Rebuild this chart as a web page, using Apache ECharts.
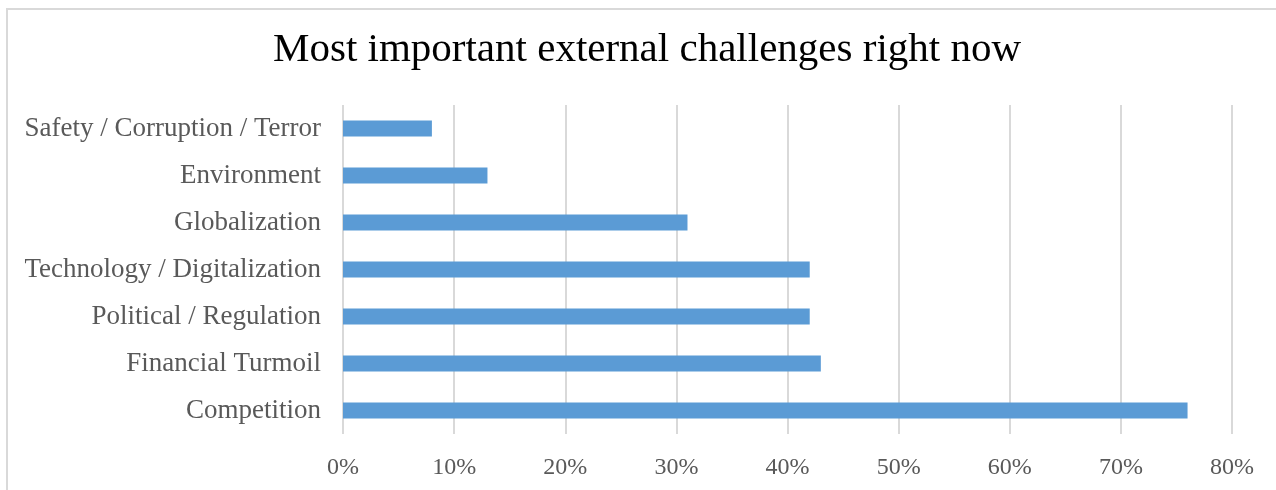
<!DOCTYPE html>
<html>
<head>
<meta charset="utf-8">
<title>Most important external challenges right now</title>
<script src="https://cdn.jsdelivr.net/npm/echarts@6/dist/echarts.min.js"></script>
<style>
  html, body { margin: 0; padding: 0; background: #ffffff; }
  #chart { width: 1276px; height: 490px; }
</style>
</head>
<body>
<div id="chart"></div>
<script>
// Categories listed bottom-to-top as they appear on the category axis
const categories = [
  'Competition',
  'Financial Turmoil',
  'Political / Regulation',
  'Technology / Digitalization',
  'Globalization',
  'Environment',
  'Safety / Corruption / Terror'
];
// Share of respondents naming each challenge (%)
const shares = [76, 43, 42, 42, 31, 13, 8];
const xTicks = [0, 10, 20, 30, 40, 50, 60, 70, 80];

const FONT = '"Liberation Serif", "DejaVu Serif", serif';
const chart = echarts.init(document.getElementById('chart'), null, { renderer: 'canvas' });

chart.setOption({
  backgroundColor: '#ffffff',
  animation: false,
  title: {
    text: 'Most important external challenges right now',
    left: 642,
    textAlign: 'center',
    top: 25,
    textStyle: { fontFamily: FONT, fontSize: 41, fontWeight: 'normal', color: '#000000' }
  },
  graphic: [{
    type: 'rect',
    shape: { x: 7, y: 9, width: 1400, height: 700 },
    style: { fill: 'none', stroke: '#d9d9d9', lineWidth: 2 },
    silent: true
  }],
  grid: { left: 343, right: 44, top: 105, bottom: 56, containLabel: false },
  xAxis: {
    type: 'value',
    min: xTicks[0],
    max: xTicks[xTicks.length - 1],
    interval: 10,
    axisLine: { show: false },
    axisTick: { show: false },
    splitLine: { show: true, lineStyle: { color: '#d9d9d9', width: 2 } },
    axisLabel: {
      formatter: v => v + '%',
      fontFamily: FONT, fontSize: 24, color: '#595959', margin: 22
    }
  },
  yAxis: {
    type: 'category',
    data: categories,
    axisLine: { show: false },
    axisTick: { show: false },
    axisLabel: {
      fontFamily: FONT, fontSize: 27, color: '#595959', margin: 22,
      padding: [3, 0, 0, 0]
    }
  },
  series: [{
    type: 'bar',
    data: shares,
    barWidth: 16,
    itemStyle: { color: '#5b9bd5' }
  }]
});
</script>
</body>
</html>
